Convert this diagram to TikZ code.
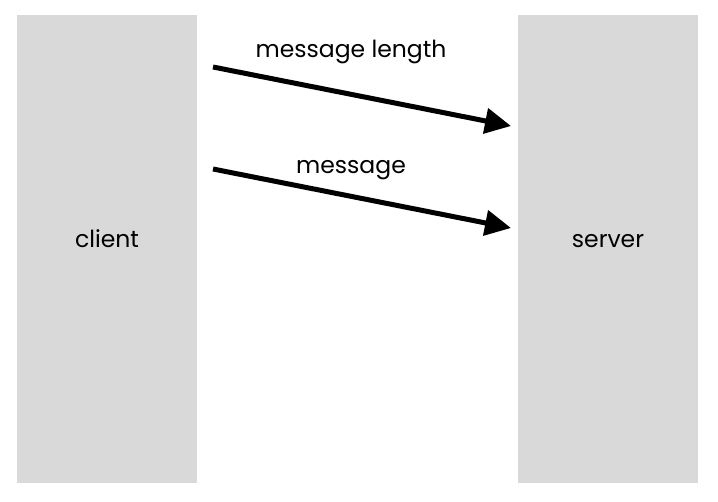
\documentclass[tikz,border=0pt]{standalone}
\usepackage{fontspec}
\setmainfont{Poppins}
\usetikzlibrary{arrows.meta}
\definecolor{boxgray}{RGB}{217,217,217}
\tikzset{
  lbl/.style={font=\fontsize{23.5}{27}\selectfont, inner sep=0pt, anchor=base},
  side/.style={fill=boxgray, draw=none, minimum width=180pt, minimum height=468pt, inner sep=0pt},
  msg/.style={line width=5pt, -{Triangle[length=26pt,width=25pt]}}
}
\begin{document}
\begin{tikzpicture}[x=1pt,y=-1pt]
\useasboundingbox (0,0) rectangle (718,501);
\node[side] (client) at (107,249) {};
\node[side] (server) at (608,249) {};
\node[lbl] (clientlbl) at (107,247) {client};
\node[lbl] (serverlbl) at (608,247) {server};
\coordinate (m1s) at (213,67);
\coordinate (m1e) at (511,126);
\coordinate (m2s) at (213,169);
\coordinate (m2e) at (511,228);
\draw[msg] (m1s) -- (m1e);
\draw[msg] (m2s) -- (m2e);
\node[lbl] (l1) at (351,57) {message length};
\node[lbl] (l2) at (351,173) {message};
\end{tikzpicture}
\end{document}
